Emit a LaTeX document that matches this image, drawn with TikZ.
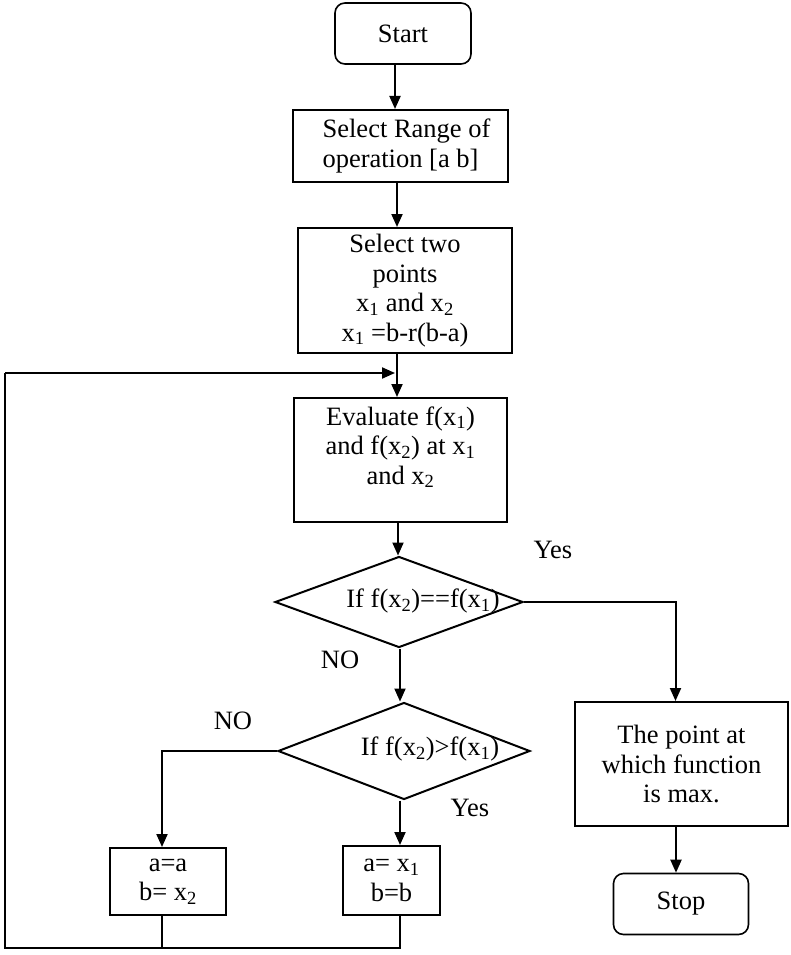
\documentclass[tikz,border=0pt]{standalone}
\usepackage{fontspec}
\setmainfont{Liberation Serif}
\usetikzlibrary{arrows.meta,shapes.geometric}
\begin{document}
\begin{tikzpicture}[x=1pt,y=-1pt,
  font=\fontsize{26.5}{29.5}\selectfont,
  box/.style={draw, line width=2pt, inner sep=0pt, align=center},
  term/.style={box, line width=1.6pt, rounded corners=10pt},
  dia/.style={draw, diamond, line width=2pt, inner sep=0pt},
  arr/.style={line width=2pt, -{Triangle[length=13pt,width=11pt]}},
  ln/.style={line width=2pt},
  lbl/.style={inner sep=0pt, align=center}]
\useasboundingbox (0,0) rectangle (791,955);

% nodes
\node[term, minimum width=136pt, minimum height=61pt] (start) at (403,33.5) {Start};
\node[box, minimum width=215pt, minimum height=72pt] (sel) at (400.5,146) {\hspace*{12pt}Select Range of\\ operation [a b]};
\node[box, minimum width=214pt, minimum height=125pt] (two) at (405,290.5)
  {Select two\\ points\\ x\textsubscript{1} and x\textsubscript{2}\\ x\textsubscript{1} =b-r(b-a)};
\node[box, minimum width=213pt, minimum height=124pt] (eval) at (400.5,460)
  {Evaluate f(x\textsubscript{1})\\ and f(x\textsubscript{2}) at x\textsubscript{1}\\ and x\textsubscript{2}\\ \mbox{}};
\node[dia, minimum width=248pt, minimum height=91pt] (d1) at (399,602) {};
\node[lbl] (d1t) at (423,601) {If f(x\textsubscript{2})==f(x\textsubscript{1})};
\node[box, minimum width=213pt, minimum height=124pt] (res) at (681.5,764)
  {The point at\\ which function\\ is max.};
\node[term, minimum width=135pt, minimum height=61pt] (stop) at (681,904) {Stop};
\node[dia, minimum width=252pt, minimum height=97pt] (d2) at (404,751) {};
\node[lbl] (d2t) at (430,749) {If f(x\textsubscript{2})>f(x\textsubscript{1})};
\node[box, minimum width=116pt, minimum height=67pt] (L) at (168,881.5) {a=a\\ b= x\textsubscript{2}};
\node[box, minimum width=97pt, minimum height=69pt] (R) at (391.5,880.5) {a= x\textsubscript{1}\\ b=b};

% labels
\node[lbl] (yes1) at (553,550) {Yes};
\node[lbl] (no1) at (340,660) {NO};
\node[lbl] (no2) at (233,721) {NO};
\node[lbl] (yes2) at (470,808) {Yes};

% connectors
\draw[arr] (start.south -| 395,0) -- (sel.north -| 395,0);
\draw[arr] (sel.south -| 397,0) -- (two.north -| 397,0);
\draw[arr] (two.south -| 397,0) -- (eval.north -| 397,0);
\draw[arr] (eval.south -| 398,0) -- (d1.north -| 398,0);
\draw[arr] (d1.east) -| ([xshift=-6pt]res.north);
\draw[arr] (res.south -| 676,0) -- (stop.north -| 676,0);
\draw[arr] (d1.south -| 400,0) -- (d2.north -| 400,0);
\draw[arr] (d2.west) -| (L.north -| 162,0);
\draw[arr] (d2.south -| 400,0) -- (R.north -| 400,0);

% feedback loop
\coordinate (bl) at (5,948);
\coordinate (br) at (400,948);
\coordinate (lb) at (162,948);
\coordinate (tl) at (5,373);
\coordinate (tj) at (395,373);
\draw[ln] (L.south -| lb) -- (lb);
\draw[ln] (R.south -| br) -- (br) -- (bl) -- (tl);
\draw[arr] (tl) -- (tj);
\end{tikzpicture}
\end{document}
